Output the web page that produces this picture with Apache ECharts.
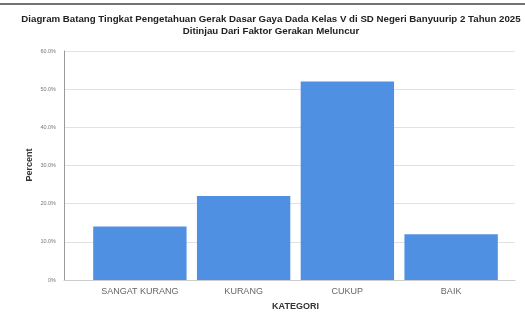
<!DOCTYPE html>
<html><head><meta charset="utf-8">
<script src="https://cdn.jsdelivr.net/npm/echarts@6/dist/echarts.min.js"></script>
<style>html,body{margin:0;padding:0;background:#fff}#c{width:525px;height:318px}</style>
</head><body><div id="c"></div>
<script>
var categories = ['SANGAT KURANG', 'KURANG', 'CUKUP', 'BAIK'];
var percentValues = [14, 22, 52, 12];
var yTicks = [0, 10, 20, 30, 40, 50, 60];
var titleLines = ['Diagram Batang Tingkat Pengetahuan Gerak Dasar Gaya Dada Kelas V di SD Negeri Banyuurip 2 Tahun 2025', 'Ditinjau Dari Faktor Gerakan Meluncur'];

var chart = echarts.init(document.getElementById('c'));
chart.setOption({
  animation: false,
  backgroundColor: '#fff',
  title: {
    text: titleLines.join('\n'), left: 266, textAlign: 'center', top: 8,
    textStyle: { fontFamily: 'Liberation Sans', fontSize: 9.7, fontWeight: 'bold', color: '#222', lineHeight: 12 }
  },
  graphic: [
    { type: 'line', shape: { x1: 0, y1: 4, x2: 525, y2: 4 }, style: { stroke: '#444', lineWidth: 1.5 } },
    { type: 'text', x: 30, y: 165, rotation: Math.PI / 2, style: { text: 'Percent', font: 'bold 9px Liberation Sans', fill: '#333', align: 'center', verticalAlign: 'middle' } }
  ],
  grid: [
    { left: 64, right: 10, top: 51, bottom: 38 },
    { left: 88, right: 22, top: 51, bottom: 38 }
  ],
  xAxis: [
    { gridIndex: 0, type: 'category', data: categories, axisLine: { lineStyle: { color: '#ccc' } }, axisTick: { show: false }, axisLabel: { show: false } },
    { gridIndex: 1, type: 'category', data: categories, name: 'KATEGORI', nameLocation: 'middle', nameGap: 22,
      nameTextStyle: { fontFamily: 'Liberation Sans', fontSize: 9, fontWeight: 'bold', color: '#333' },
      axisLine: { show: false }, axisTick: { show: false },
      axisLabel: { margin: 7, fontFamily: 'Liberation Sans', fontSize: 9, color: '#666' } }
  ],
  yAxis: [
    { gridIndex: 0, type: 'value', min: 0, max: 60, interval: 10,
      axisLine: { show: true, lineStyle: { color: '#999' } }, axisTick: { show: false },
      splitLine: { lineStyle: { color: '#e2e2e2' } },
      axisLabel: { margin: 8, fontFamily: 'Liberation Sans', fontSize: 5.5, color: '#777',
        formatter: function (v) { return v === 0 ? '0%' : v.toFixed(1) + '%'; } } },
    { gridIndex: 1, type: 'value', min: 0, max: 60, interval: 10, show: false }
  ],
  series: [{
    type: 'bar', xAxisIndex: 1, yAxisIndex: 1, data: percentValues,
    barCategoryGap: '10%', itemStyle: { color: '#5090e2' }
  }]
});
</script></body></html>
